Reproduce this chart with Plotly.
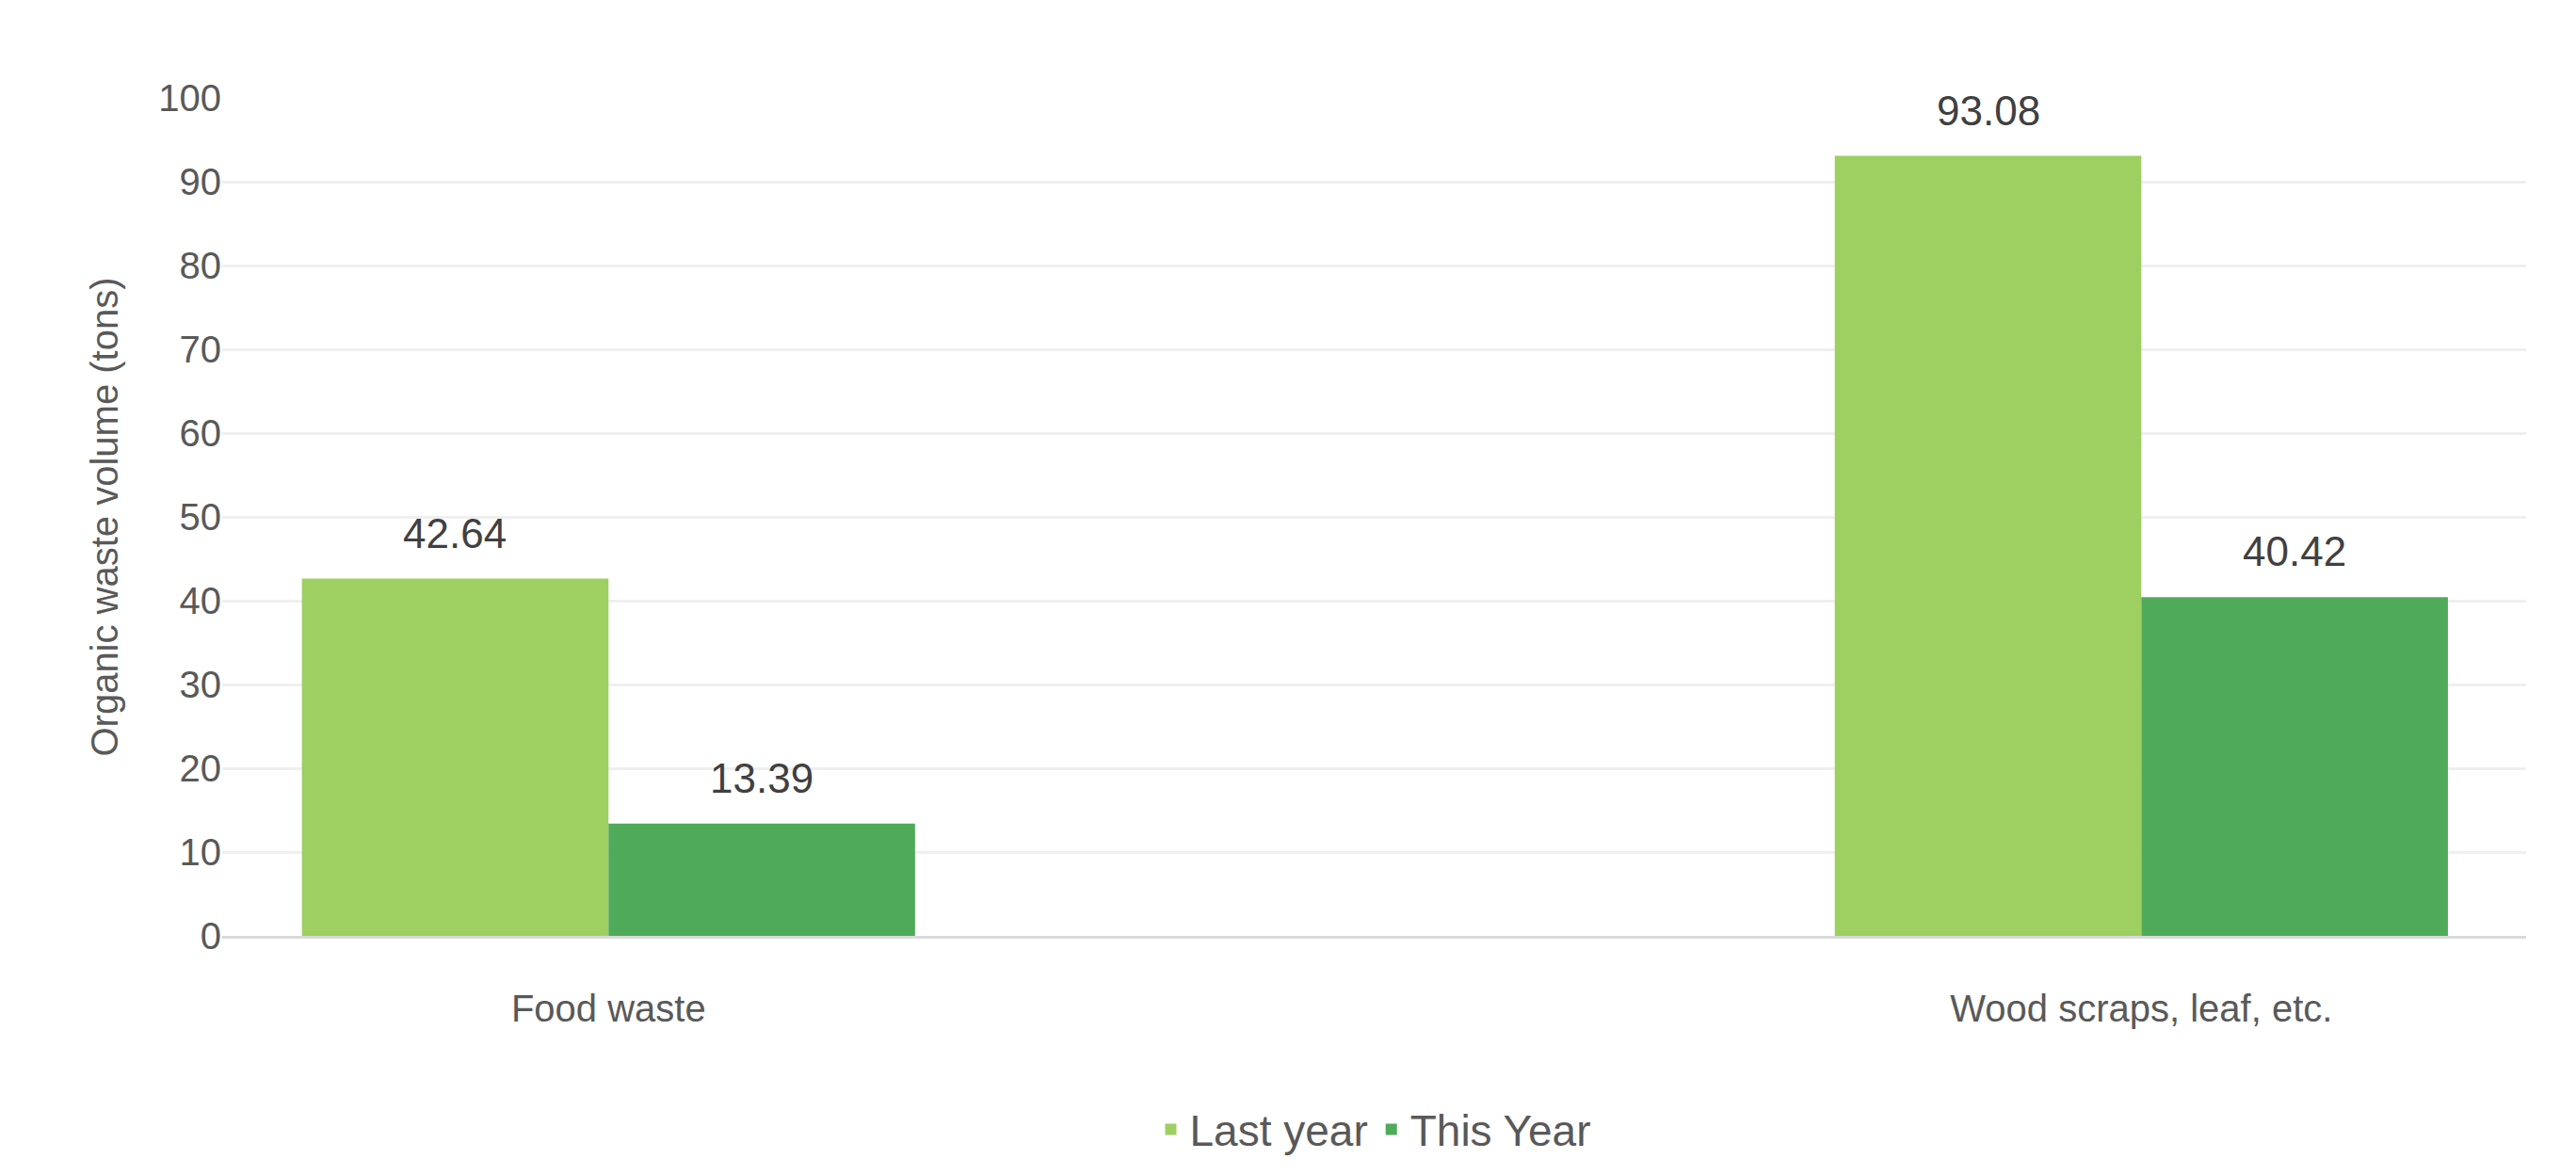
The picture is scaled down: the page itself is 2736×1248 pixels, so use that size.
import plotly.graph_objects as go

categories = ["Food waste", "Wood scraps, leaf, etc."]
last_year = [42.64, 93.08]
this_year = [13.39, 40.42]
series_names = ["Last year", "This Year"]

font = "Liberation Sans, Arial, sans-serif"
pos = list(range(len(categories)))
bw = 0.2
fig = go.Figure()
for name, vals, col, off in [(series_names[0], last_year, "#9DCF61", -bw), (series_names[1], this_year, "#4FAB5A", 0.0)]:
    fig.add_trace(go.Bar(x=pos, y=vals, name=name, marker_color=col, offset=off, width=bw,
                         marker_line_width=0))
    for p, v in zip(pos, vals):
        fig.add_annotation(x=p + off + bw / 2, y=v, text=f"{v:.2f}", showarrow=False,
                           yanchor="bottom", yshift=22,
                           font=dict(size=44, color="#404040", family=font))

fig.update_layout(
    width=2736, height=1248, paper_bgcolor="white", plot_bgcolor="white",
    margin=dict(l=228, r=61, t=96, b=262),
    barmode="overlay",
    font=dict(family=font, color="#595959"),
    legend=dict(orientation="h", x=0.5, xanchor="center", y=-0.19, yanchor="top",
                font=dict(size=46, color="#595959")),
    yaxis=dict(range=[0, 100], dtick=10, gridcolor="#EFEFEF", gridwidth=3,
               tickfont=dict(size=40, color="#595959"), ticks="", zeroline=False,
               title=dict(text="Organic waste volume (tons)", font=dict(size=40, color="#595959"), standoff=30)),
    xaxis=dict(range=[-0.252, 1.251], tickvals=pos, ticktext=categories,
               showline=True, linecolor="#D9D9D9", linewidth=3, showgrid=False, zeroline=False,
               tickfont=dict(size=40, color="#595959"), ticklabelstandoff=40),
)
fig.write_html("out.html")
